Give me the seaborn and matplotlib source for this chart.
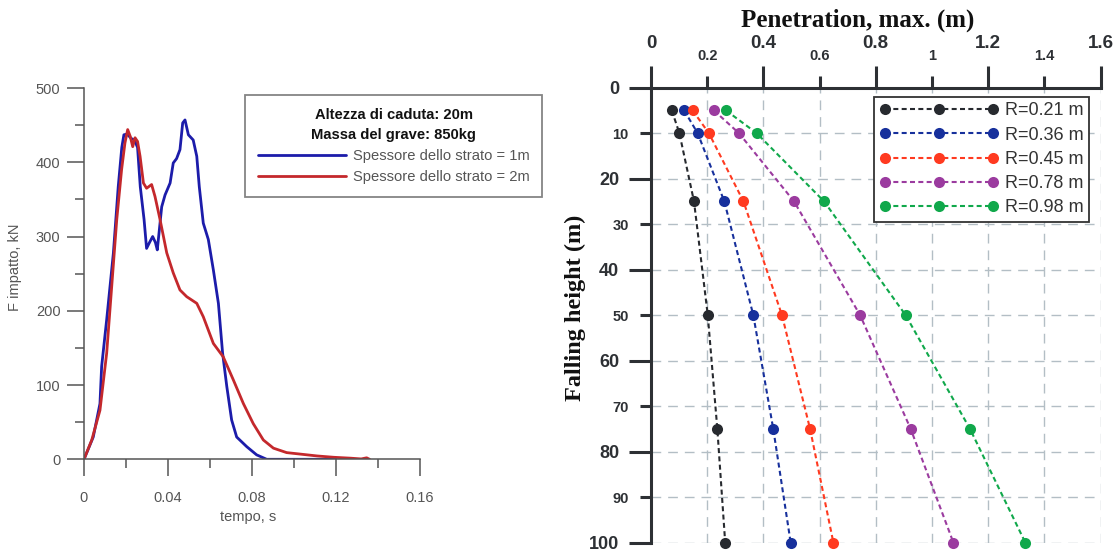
import numpy as np
import pandas as pd
import matplotlib
matplotlib.use("Agg")
import matplotlib.pyplot as plt
import seaborn as sns

# ---------------- data: left chart (impact force vs time) ----------------
t_1m = [0, 0.0044, 0.0076, 0.0084, 0.0108, 0.014, 0.0163, 0.018, 0.019, 0.0205,
        0.0225, 0.024, 0.0255, 0.0268, 0.0286, 0.0298, 0.0312, 0.0327, 0.034, 0.0349,
        0.037, 0.0386, 0.041, 0.0425, 0.0441, 0.0457, 0.047, 0.0481, 0.0497, 0.052,
        0.0537, 0.0549, 0.0568, 0.0592, 0.0616, 0.064, 0.066, 0.068, 0.0703, 0.0727,
        0.0775, 0.0822, 0.087, 0.10, 0.12]
F_1m = [0, 30, 75, 125, 188, 278, 367, 420, 437, 438,
        432, 430, 420, 367, 323, 284, 292, 300, 292, 282,
        340, 356, 372, 399, 405, 417, 453, 457, 437, 430,
        408, 367, 318, 296, 255, 210, 143, 98, 53, 30,
        17, 6, 0, 0, 0]
t_2m = [0, 0.0037, 0.0076, 0.0108, 0.0132, 0.0156, 0.0179, 0.0195, 0.0208, 0.022,
        0.0232, 0.0243, 0.0255, 0.0267, 0.0283, 0.0298, 0.0322, 0.0338, 0.0362, 0.0394,
        0.0425, 0.0457, 0.0489, 0.0537, 0.0568, 0.0616, 0.0663, 0.0711, 0.0759, 0.0806,
        0.0854, 0.0902, 0.0965, 0.103, 0.111, 0.119, 0.127, 0.132, 0.1346, 0.136]
F_2m = [0, 26, 66, 143, 233, 323, 390, 426, 444, 435,
        421, 433, 428, 408, 372, 365, 370, 354, 323, 278,
        251, 228, 219, 210, 192, 156, 138, 107, 75, 48,
        26, 15, 9, 7, 4.5, 2.7, 1.5, 0.5, 2, 0]
left_labels = ["Spessore dello strato = 1m", "Spessore dello strato = 2m"]
left_title = "Altezza di caduta: 20m\nMassa del grave: 850kg"
left_xticks = [0, 0.04, 0.08, 0.12, 0.16]
left_xticklabels = ["0", "0.04", "0.08", "0.12", "0.16"]
left_yticks = [0, 100, 200, 300, 400, 500]

# ---------------- data: right chart (penetration vs falling height) ----------------
heights = [5, 10, 25, 50, 75, 100]
pen_021 = [0.074, 0.101, 0.153, 0.202, 0.236, 0.264]
pen_036 = [0.118, 0.166, 0.261, 0.364, 0.435, 0.497]
pen_045 = [0.148, 0.206, 0.329, 0.466, 0.566, 0.649]
pen_078 = [0.224, 0.313, 0.509, 0.744, 0.924, 1.076]
pen_098 = [0.267, 0.376, 0.616, 0.906, 1.135, 1.332]
r_labels = ["R=0.21 m", "R=0.36 m", "R=0.45 m", "R=0.78 m", "R=0.98 m"]
x_major = [0, 0.4, 0.8, 1.2, 1.6]
x_major_lbl = ["0", "0.4", "0.8", "1.2", "1.6"]
x_minor = [0.2, 0.6, 1.0, 1.4]
x_minor_lbl = ["0.2", "0.6", "1", "1.4"]
y_major = [0, 20, 40, 60, 80, 100]
y_minor = [10, 30, 50, 70, 90]

# ---------------- styling ----------------
sns.set_theme(style="ticks")
plt.rcParams["font.family"] = ["Liberation Sans", "DejaVu Sans"]

W, H = 1114, 551
fig = plt.figure(figsize=(W / 100, H / 100), dpi=100)
fig.patch.set_facecolor("white")

# ======== left chart ========
gray = "#555555"
ax1 = fig.add_axes([84 / W, (H - 459.3) / H, 336 / W, 371.3 / H])
ax1.set_facecolor("white")
df1 = pd.DataFrame({"t": t_1m, "F": F_1m})
df2 = pd.DataFrame({"t": t_2m, "F": F_2m})
sns.lineplot(data=df1, x="t", y="F", color="#1c1caa", lw=2.0, sort=False,
             estimator=None, ax=ax1, label=left_labels[0])
sns.lineplot(data=df2, x="t", y="F", color="#c4282c", lw=2.0, sort=False,
             estimator=None, ax=ax1, label=left_labels[1])
ax1.set_xlim(0, 0.16)
ax1.set_ylim(0, 500)
ax1.set_xticks(left_xticks, labels=left_xticklabels)
ax1.set_xticks(np.array([0.02, 0.06, 0.10, 0.14]), minor=True)
ax1.set_yticks(left_yticks, labels=[str(v) for v in left_yticks])
ax1.set_yticks([50, 150, 250, 350, 450], minor=True)
for s in ["top", "right"]:
    ax1.spines[s].set_visible(False)
for s in ["left", "bottom"]:
    ax1.spines[s].set_color(gray)
    ax1.spines[s].set_linewidth(1.1)
ax1.tick_params(axis="both", which="major", direction="out", length=12, width=1.1,
                color=gray, labelcolor=gray, labelsize=10.5)
ax1.tick_params(axis="both", which="minor", direction="out", length=6.5, width=1.1,
                color=gray)
ax1.tick_params(axis="x", which="major", pad=11)
ax1.tick_params(axis="y", which="major", pad=5)
ax1.set_xlabel("tempo, s", color=gray, fontsize=10.5)
ax1.set_ylabel("F impatto, kN", color=gray, fontsize=10.5)
ax1.xaxis.set_label_coords((248 - 84) / 336, (459.3 - 517) / 371.3)
ax1.xaxis.label.set_va("center")
ax1.yaxis.set_label_coords((15 - 84) / 336, (459.3 - 267) / 371.3)
ax1.yaxis.label.set_va("center")
ax1.grid(False)
leg1 = ax1.legend(title=left_title, loc="upper left",
                  bbox_to_anchor=(245 / W, 1 - 95 / H),
                  bbox_transform=fig.transFigure, fontsize=10.6,
                  title_fontproperties={"weight": "bold", "size": 10.6},
                  handlelength=6.0, handletextpad=0.5, frameon=True,
                  fancybox=False, edgecolor="#666666", labelspacing=0.5,
                  borderpad=0.85, borderaxespad=0)
leg1.get_frame().set_linewidth(1.3)
for txt in leg1.get_texts():
    txt.set_color(gray)
leg1.get_title().set_color("#111111")
leg1.get_title().set_multialignment("center")
leg1.get_title().set_linespacing(1.55)

# ======== right chart ========
dark = "#2d3034"
top_px, bot_px, left_px = 87.7, 542.5, 651.0
ax2 = fig.add_axes([left_px / W, (H - bot_px) / H, 449.6 / W, (bot_px - top_px) / H])
ax2.set_facecolor("white")
series = [pen_021, pen_036, pen_045, pen_078, pen_098]
colors = ["#272a2f", "#17309c", "#ff3a20", "#9b3b9f", "#10a84b"]
for vals, col, lab in zip(series, colors, r_labels):
    d = pd.DataFrame({"pen": vals, "h": heights})
    sns.lineplot(data=d, x="pen", y="h", color=col, sort=False, estimator=None,
                 marker="o", markersize=8, markeredgewidth=0, lw=1.5,
                 linestyle=(0, (2.4, 1.6)), ax=ax2, label=lab, clip_on=False,
                 zorder=3)
ax2.set_xlim(0, 1.6)
ax2.set_ylim(100, 0)
ax2.xaxis.tick_top()
ax2.xaxis.set_label_position("top")
ax2.set_xticks(x_major, labels=x_major_lbl)
ax2.set_xticks(x_minor, labels=x_minor_lbl, minor=True)
ax2.set_yticks(y_major, labels=[str(v) for v in y_major])
ax2.set_yticks(y_minor, labels=[str(v) for v in y_minor], minor=True)
for s in ["bottom", "right"]:
    ax2.spines[s].set_visible(False)
for s in ["top", "left"]:
    ax2.spines[s].set_color(dark)
    ax2.spines[s].set_linewidth(2.2)
ax2.tick_params(axis="x", which="major", direction="out", length=16, width=2.2,
                color=dark, labelcolor=dark, labelsize=13.5, pad=10,
                top=True, bottom=False, labeltop=True, labelbottom=False)
ax2.tick_params(axis="x", which="minor", direction="out", length=8.5, width=2.2,
                color=dark, labelcolor=dark, labelsize=10.5, pad=9,
                top=True, bottom=False, labeltop=True, labelbottom=False)
ax2.tick_params(axis="y", which="major", direction="out", length=16, width=2.2,
                color=dark, labelcolor=dark, labelsize=13, pad=7)
ax2.tick_params(axis="y", which="minor", direction="out", length=8, width=2.2,
                color=dark, labelcolor=dark, labelsize=10.5, pad=8)
for lbl in ax2.get_xticklabels(which="both") + ax2.get_yticklabels(which="both"):
    lbl.set_fontweight("bold")
ax2.grid(True, which="both", color="#b3bec5", lw=1.0, linestyle=(0, (7, 5)))
ax2.set_axisbelow(True)
ax2.set_xlabel("Penetration, max. (m)", fontsize=18, fontweight="bold",
               family=["Liberation Serif", "DejaVu Serif"], color="#111111")
ax2.set_ylabel("Falling height (m)", fontsize=17.5, fontweight="bold",
               family=["Liberation Serif", "DejaVu Serif"], color="#111111")
span = bot_px - top_px
ax2.xaxis.set_label_coords((858 - left_px) / 449.6, (bot_px - 20) / span)
ax2.xaxis.label.set_va("center")
ax2.yaxis.set_label_coords((575 - left_px) / 449.6, (bot_px - 308) / span)
ax2.yaxis.label.set_va("center")
leg2 = ax2.legend(loc="upper left", bbox_to_anchor=(874 / W, 1 - 97 / H),
                  bbox_transform=fig.transFigure, fontsize=13, numpoints=3,
                  handlelength=6.6, handletextpad=0.35, frameon=True,
                  fancybox=False, edgecolor="#333333", labelspacing=0.4,
                  borderpad=0.3, borderaxespad=0, framealpha=1)
leg2.get_frame().set_linewidth(1.3)
for txt in leg2.get_texts():
    txt.set_color("#333333")

fig.savefig("out.png", dpi=100, facecolor="white")
